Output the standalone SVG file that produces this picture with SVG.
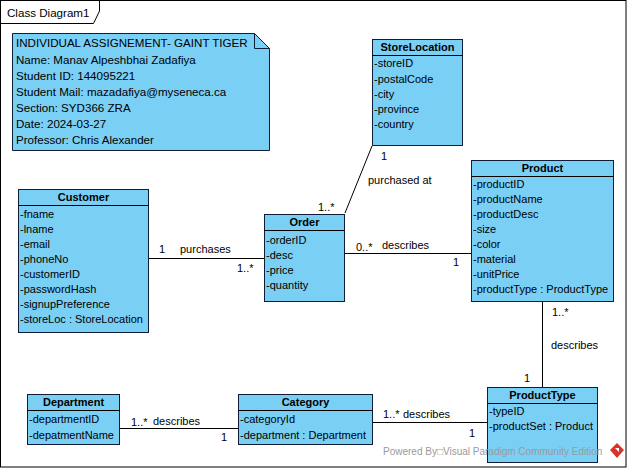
<svg xmlns="http://www.w3.org/2000/svg" width="627" height="468" viewBox="0 0 627 468">
<style>
.box{fill:#7acff5;stroke:#0f1e38;stroke-width:1}
.hd{font-family:"Liberation Sans",Arial,sans-serif;font-size:11px;font-weight:bold;fill:#000;text-anchor:middle}
.at{font-family:"Liberation Sans",Arial,sans-serif;font-size:11px;fill:#000}
.nt{font-family:"Liberation Sans",Arial,sans-serif;font-size:11.6px;fill:#000}
.lb{font-family:"Liberation Sans",Arial,sans-serif;font-size:11px;fill:#000}
.ln{stroke:#000;stroke-width:1;fill:none}
</style>
<rect x="0" y="0" width="627" height="468" fill="#fff"/>
<g id="frame">
<rect x="0.5" y="0.5" width="625.5" height="466.5" fill="none" stroke="#000"/>
<path d="M0.5,23.5 H93.5 L99.5,11 V0.5" fill="none" stroke="#000"/>
<text x="7" y="17" class="nt">Class Diagram1</text>
</g>
<g id="connectors">
<line class="ln" x1="148" y1="258.5" x2="264" y2="258.5"/>
<line class="ln" x1="345" y1="253.5" x2="471" y2="253.5"/>
<line class="ln" x1="345" y1="213" x2="372" y2="146"/>
<line class="ln" x1="542.5" y1="302" x2="542.5" y2="387"/>
<line class="ln" x1="119" y1="428.5" x2="238" y2="428.5"/>
<line class="ln" x1="372" y1="422.5" x2="487" y2="422.5"/>
<text x="159" y="253" class="lb">1</text>
<text x="180" y="253" class="lb">purchases</text>
<text x="237" y="272" class="lb">1..*</text>
<text x="356" y="251" class="lb">0..*</text>
<text x="382" y="249" class="lb">describes</text>
<text x="453" y="266" class="lb">1</text>
<text x="381" y="160" class="lb">1</text>
<text x="368" y="184" class="lb">purchased at</text>
<text x="318" y="211" class="lb">1..*</text>
<text x="552" y="316" class="lb">1..*</text>
<text x="551" y="349" class="lb">describes</text>
<text x="524" y="382" class="lb">1</text>
<text x="131" y="426" class="lb">1..*</text>
<text x="153" y="425" class="lb">describes</text>
<text x="221" y="441" class="lb">1</text>
<text x="383" y="418" class="lb">1..*</text>
<text x="403" y="418" class="lb">describes</text>
<text x="469" y="437" class="lb">1</text>
</g>
<g id="note">
<path class="box" d="M12.5,33.5 H254.5 L269.5,48.5 V150.5 H12.5 Z"/>
<path d="M254.5,33.5 V48.5 H269.5" fill="none" stroke="#0f1e38"/>
<text x="16" y="47" class="nt">INDIVIDUAL ASSIGNEMENT- GAINT TIGER</text>
<text x="16" y="64" class="nt">Name: Manav Alpeshbhai Zadafiya</text>
<text x="16" y="80" class="nt">Student ID: 144095221</text>
<text x="16" y="96" class="nt">Student Mail: mazadafiya@myseneca.ca</text>
<text x="16" y="112" class="nt">Section: SYD366 ZRA</text>
<text x="16" y="128" class="nt">Date: 2024-03-27</text>
<text x="16" y="144" class="nt">Professor: Chris Alexander</text>
</g>
<g id="StoreLocation">
<rect class="box" x="372.5" y="39.5" width="90" height="106"/>
<line class="ln" x1="372.5" y1="55.5" x2="462.5" y2="55.5" stroke="#0f1e38"/>
<text x="417.5" y="51" class="hd">StoreLocation</text>
<text x="374" y="67" class="at">-storeID</text>
<text x="374" y="83" class="at">-postalCode</text>
<text x="374" y="98" class="at">-city</text>
<text x="374" y="113" class="at">-province</text>
<text x="374" y="128" class="at">-country</text>
</g>
<g id="Product">
<rect class="box" x="471.5" y="160.5" width="142" height="141"/>
<line class="ln" x1="471.5" y1="176.5" x2="613.5" y2="176.5"/>
<text x="542.5" y="172" class="hd">Product</text>
<text x="473" y="188" class="at">-productID</text>
<text x="473" y="203" class="at">-productName</text>
<text x="473" y="218" class="at">-productDesc</text>
<text x="473" y="233" class="at">-size</text>
<text x="473" y="248" class="at">-color</text>
<text x="473" y="263" class="at">-material</text>
<text x="473" y="278" class="at">-unitPrice</text>
<text x="473" y="293" class="at">-productType : ProductType</text>
</g>
<g id="Customer">
<rect class="box" x="18.5" y="189.5" width="130" height="143"/>
<line class="ln" x1="18.5" y1="205.5" x2="148.5" y2="205.5"/>
<text x="83.5" y="201" class="hd">Customer</text>
<text x="20" y="218" class="at">-fname</text>
<text x="20" y="233" class="at">-lname</text>
<text x="20" y="248" class="at">-email</text>
<text x="20" y="263" class="at">-phoneNo</text>
<text x="20" y="278" class="at">-customerID</text>
<text x="20" y="293" class="at">-passwordHash</text>
<text x="20" y="308" class="at">-signupPreference</text>
<text x="20" y="323" class="at">-storeLoc : StoreLocation</text>
</g>
<g id="Order">
<rect class="box" x="264.5" y="214.5" width="80" height="87"/>
<line class="ln" x1="264.5" y1="230.5" x2="344.5" y2="230.5"/>
<text x="304.5" y="226" class="hd">Order</text>
<text x="266" y="244" class="at">-orderID</text>
<text x="266" y="259" class="at">-desc</text>
<text x="266" y="274" class="at">-price</text>
<text x="266" y="289" class="at">-quantity</text>
</g>
<g id="Department">
<rect class="box" x="27.5" y="394.5" width="92" height="50"/>
<line class="ln" x1="27.5" y1="410.5" x2="119.5" y2="410.5"/>
<text x="73.5" y="406" class="hd">Department</text>
<text x="29" y="423" class="at">-departmentID</text>
<text x="29" y="439" class="at">-depatmentName</text>
</g>
<g id="Category">
<rect class="box" x="238.5" y="394.5" width="134" height="50"/>
<line class="ln" x1="238.5" y1="410.5" x2="372.5" y2="410.5"/>
<text x="305.5" y="406" class="hd">Category</text>
<text x="240" y="423" class="at">-categoryId</text>
<text x="240" y="439" class="at">-department : Department</text>
</g>
<g id="ProductType">
<rect class="box" x="487.5" y="387.5" width="110" height="75"/>
<line class="ln" x1="487.5" y1="403.5" x2="597.5" y2="403.5"/>
<text x="542.5" y="399" class="hd">ProductType</text>
<text x="489" y="415" class="at">-typeID</text>
<text x="489" y="430" class="at">-productSet : Product</text>
</g>
<g id="watermark">
<text x="383" y="455" font-family="'Liberation Sans',Arial,sans-serif" font-size="10" fill="#9a9a9a">Powered By□Visual Paradigm Community Edition</text>
<path d="M617,443 L624,450 L617,458 L610,450 Z" fill="#d9342b"/>
<path d="M615,448 L619,448 L619,452 Z" fill="#fff"/>
</g>
</svg>
